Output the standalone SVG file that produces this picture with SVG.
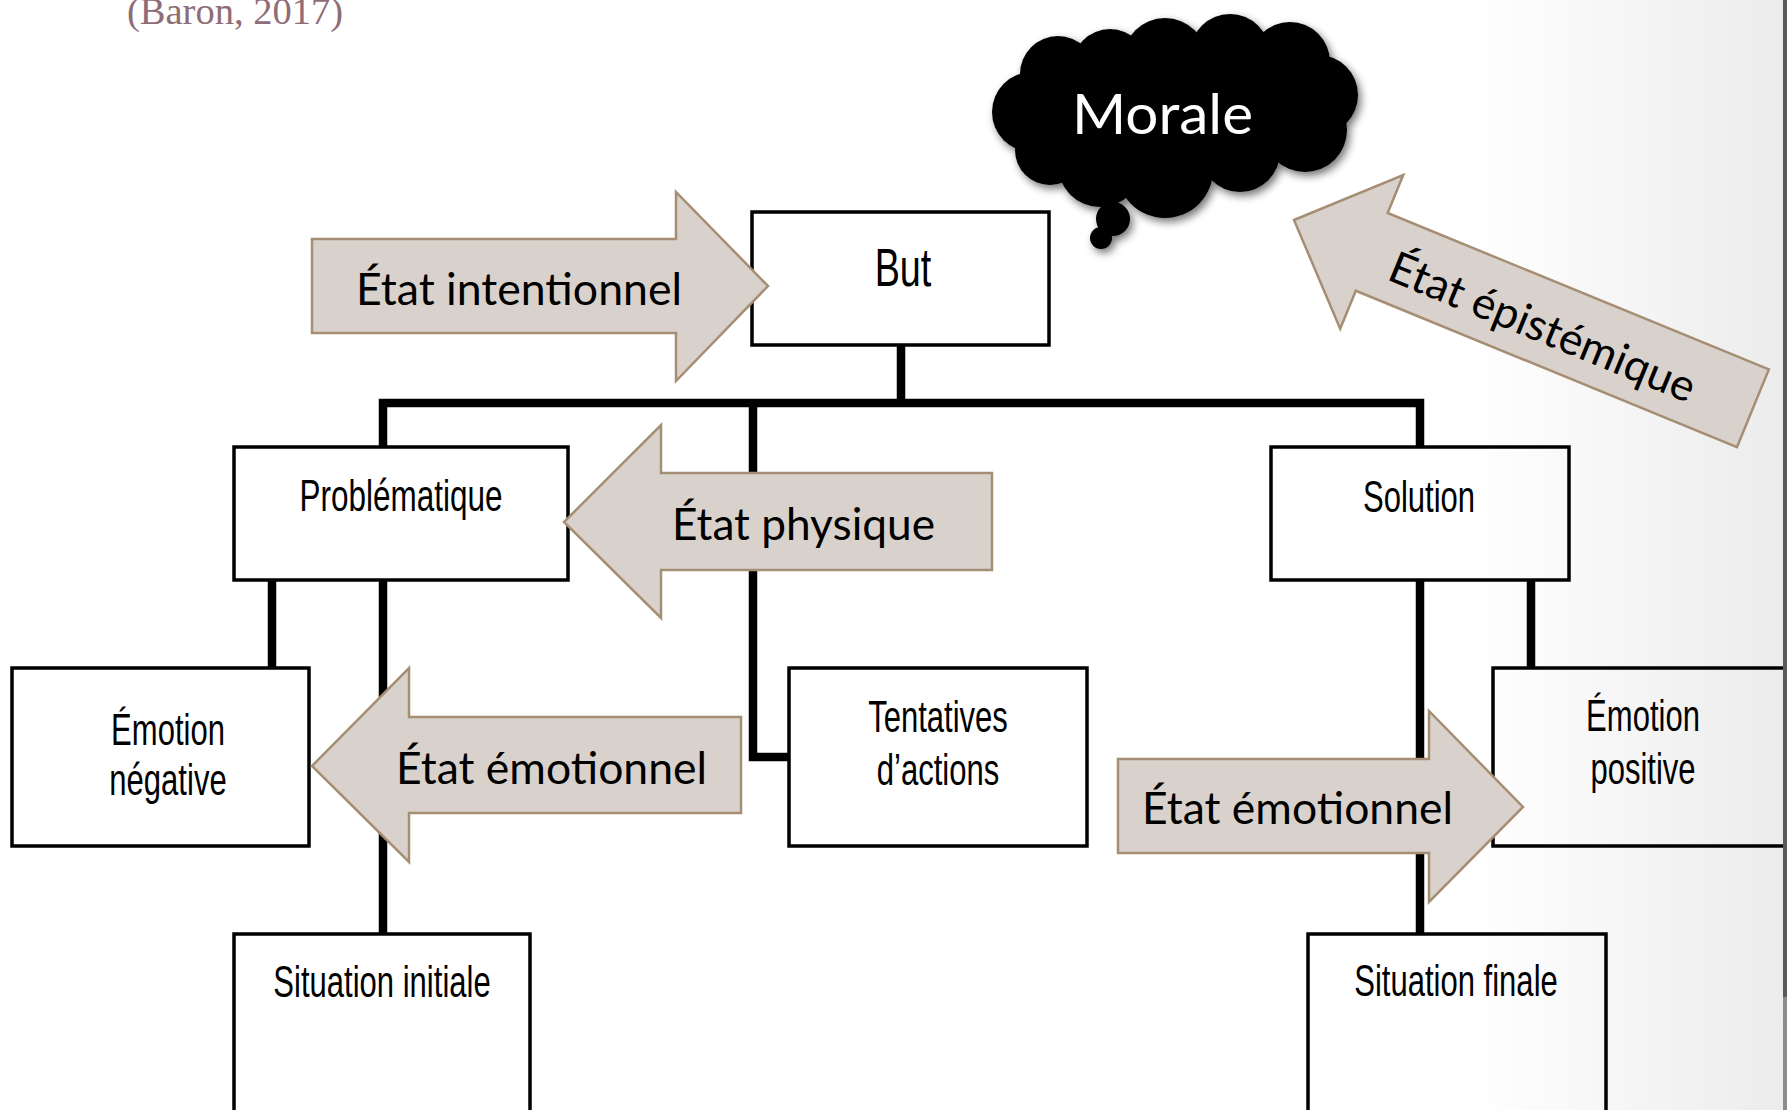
<svg xmlns="http://www.w3.org/2000/svg" width="1787" height="1110" viewBox="0 0 1787 1110">
<defs>
<linearGradient id="bg" gradientUnits="userSpaceOnUse" x1="1470" y1="0" x2="1782" y2="0">
<stop offset="0" stop-color="#FFFFFF"/>
<stop offset="1" stop-color="#ECECEC"/>
</linearGradient>
<filter id="shadow" x="-10%" y="-10%" width="130%" height="140%">
<feGaussianBlur in="SourceAlpha" stdDeviation="4"/>
<feOffset dx="3" dy="4" result="b"/>
<feComponentTransfer><feFuncA type="linear" slope="0.55"/></feComponentTransfer>
<feMerge><feMergeNode/><feMergeNode in="SourceGraphic"/></feMerge>
</filter>
</defs>
<style>
.box{fill:none;stroke:#000;stroke-width:3.5}
.lbl{font-family:"Liberation Sans",Arial,sans-serif;font-size:45px;fill:#000;text-anchor:middle}
.big{font-size:54px}
.conn{fill:none;stroke:#000;stroke-width:8.5;stroke-linejoin:miter}
.arrow{fill:#D9D2CC;stroke:#A68E74;stroke-width:2.5;stroke-linejoin:miter}
.atxt{font-family:Lato,"Open Sans",sans-serif;font-size:44px;fill:#000}
</style>
<rect x="0" y="0" width="1787" height="1110" fill="url(#bg)"/>
<text x="127" y="24" font-family="'Liberation Serif',serif" font-size="38" fill="#8E6D77" textLength="216" lengthAdjust="spacingAndGlyphs">(Baron, 2017)</text>

<g id="connectors">
<path class="conn" d="M383 447 V403 H1420 V447" stroke-width="10"/>
<path class="conn" d="M901 345 V403"/>
<path class="conn" d="M753 403 V757 H789"/>
<path class="conn" d="M272 580 V668"/>
<path class="conn" d="M383 580 V934"/>
<path class="conn" d="M1420 580 V934"/>
<path class="conn" d="M1531 580 V668"/>
</g>

<g id="but">
<rect class="box" x="752" y="212" width="297" height="133"/>
<text class="lbl big" transform="translate(903,286) scale(0.7,1)">But</text>
</g>
<g id="problematique">
<rect class="box" x="234" y="447" width="334" height="133"/>
<text class="lbl" transform="translate(401,511) scale(0.7,1)">Problématique</text>
</g>
<g id="solution">
<rect class="box" x="1271" y="447" width="298" height="133"/>
<text class="lbl" transform="translate(1419,512) scale(0.69,1)">Solution</text>
</g>
<g id="emotion-negative">
<rect class="box" x="12" y="668" width="297" height="178"/>
<text class="lbl" transform="translate(168,745) scale(0.69,1)">Émotion</text>
<text class="lbl" transform="translate(168,795) scale(0.69,1)">négative</text>
</g>
<g id="tentatives">
<rect class="box" x="789" y="668" width="298" height="178"/>
<text class="lbl" transform="translate(938,732) scale(0.69,1)">Tentatives</text>
<text class="lbl" transform="translate(938,785) scale(0.69,1)">d’actions</text>
</g>
<g id="emotion-positive">
<rect class="box" x="1493" y="668" width="320" height="178"/>
<text class="lbl" transform="translate(1643,731) scale(0.69,1)">Émotion</text>
<text class="lbl" transform="translate(1643,784) scale(0.69,1)">positive</text>
</g>
<g id="situation-initiale">
<rect class="box" x="234" y="934" width="296" height="200"/>
<text class="lbl" transform="translate(382,997) scale(0.69,1)">Situation initiale</text>
</g>
<g id="situation-finale">
<rect class="box" x="1308" y="934" width="298" height="200"/>
<text class="lbl" transform="translate(1456,996) scale(0.69,1)">Situation finale</text>
</g>

<g id="morale" filter="url(#shadow)">
<g fill="#000">
<circle cx="1058" cy="74" r="38"/>
<circle cx="1032" cy="112" r="40"/>
<circle cx="1050" cy="150" r="35"/>
<circle cx="1100" cy="165" r="42"/>
<circle cx="1165" cy="170" r="48"/>
<circle cx="1240" cy="152" r="40"/>
<circle cx="1305" cy="130" r="42"/>
<circle cx="1318" cy="95" r="40"/>
<circle cx="1290" cy="62" r="40"/>
<circle cx="1230" cy="54" r="40"/>
<circle cx="1165" cy="60" r="42"/>
<circle cx="1110" cy="67" r="38"/>
<ellipse cx="1175" cy="115" rx="140" ry="65"/>
<circle cx="1113" cy="219" r="17"/>
<circle cx="1101" cy="238" r="11"/>
</g>
<text x="1162.5" y="134" font-family="Lato,'Open Sans',sans-serif" font-size="57" fill="#FFFFFF" text-anchor="middle" textLength="181" lengthAdjust="spacingAndGlyphs">Morale</text>
</g>

<g id="etat-intentionnel">
<polygon class="arrow" points="312,239 676,239 676,192 768,286 676,381 676,333 312,333"/>
<text class="atxt" x="356" y="305" textLength="326" lengthAdjust="spacingAndGlyphs">État intentionnel</text>
</g>
<g id="etat-physique">
<polygon class="arrow" points="992,473 661,473 661,425 564,522 661,618 661,570 992,570"/>
<text class="atxt" x="672" y="540" textLength="263" lengthAdjust="spacingAndGlyphs">État physique</text>
</g>
<g id="etat-emotionnel-gauche">
<polygon class="arrow" points="741,717 409,717 409,668 312,766 409,862 409,813 741,813"/>
<text class="atxt" x="396" y="784" textLength="311" lengthAdjust="spacingAndGlyphs">État émotionnel</text>
</g>
<g id="etat-emotionnel-droite">
<polygon class="arrow" points="1118,759 1429,759 1429,711 1523,807 1429,902 1429,853 1118,853"/>
<text class="atxt" x="1142" y="824" textLength="311" lengthAdjust="spacingAndGlyphs">État émotionnel</text>
</g>
<g id="etat-epistemique" transform="translate(1294,220) rotate(22.3)">
<polygon class="arrow" points="0,0 84,-83 84,-42 496,-42 496,42 84,42 84,83"/>
<text class="atxt" x="107" y="20" textLength="327" lengthAdjust="spacingAndGlyphs">État épistémique</text>
</g>

<rect x="1783" y="0" width="4" height="997" fill="#5A5A5A"/>
<rect x="1783" y="997" width="4" height="113" fill="#8C8C8C"/>
</svg>
